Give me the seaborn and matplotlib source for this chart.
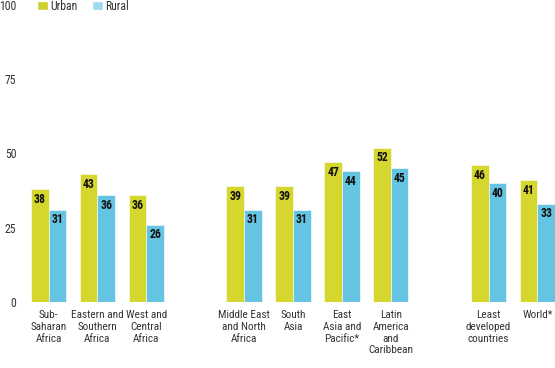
import matplotlib
matplotlib.use("Agg")
import matplotlib.pyplot as plt
from matplotlib import font_manager
from matplotlib.patches import Patch
import seaborn as sns
import pandas as pd

regions = ["Sub-\nSaharan\nAfrica", "Eastern and\nSouthern\nAfrica", "West and\nCentral\nAfrica",
           "Middle East\nand North\nAfrica", "South\nAsia", "East\nAsia and\nPacific*",
           "Latin\nAmerica\nand\nCaribbean", "Least\ndeveloped\ncountries", "World*"]
urban = [38, 43, 36, 39, 39, 47, 52, 46, 41]
rural = [31, 36, 26, 31, 31, 44, 45, 40, 33]
# empty slots to separate the region blocks
order = regions[:3] + [" "] + regions[3:7] + ["  "] + regions[7:]

urban_color = "#d5d62e"
rural_color = "#64c4e2"

df = pd.DataFrame({
    "region": regions * 2,
    "value": urban + rural,
    "area": ["Urban"] * len(urban) + ["Rural"] * len(rural),
})


def pick_font(names):
    for n in names:
        try:
            font_manager.findfont(n, fallback_to_default=False)
            return n
        except ValueError:
            pass
    return "DejaVu Sans"


font = pick_font(["Liberation Sans Narrow", "Arial Narrow", "DejaVu Sans Condensed",
                  "Roboto Condensed", "Open Sans Condensed", "Roboto"])
narrow = font != "Roboto"

sns.set_style("white")
plt.rcParams["font.family"] = [font, "DejaVu Sans"]

fs = 8.5 if narrow else 7.8

fig = plt.figure(figsize=(5.55, 3.68), dpi=100)
ax = fig.add_axes([22 / 555, 66 / 368, 533 / 555, 297 / 368])

sns.barplot(data=df, x="region", y="value", hue="area", order=order,
            hue_order=["Urban", "Rural"], palette=[urban_color, rural_color],
            width=0.72, saturation=1, edgecolor="white", linewidth=0.4,
            legend=False, ax=ax)

for cont in ax.containers:
    for bar in cont:
        h = bar.get_height()
        if h != h:
            continue
        ax.annotate(f"{h:.0f}", (bar.get_x() + bar.get_width() / 2, h),
                    xytext=(0, -2.5), textcoords="offset points",
                    ha="center", va="top", fontsize=fs, fontweight="bold",
                    color="#111111")

ax.set_xlim(-0.542, 10.358)
ax.set_ylim(0, 100)
ax.set_yticks([0, 25, 50, 75, 100])
ax.set_xlabel("")
ax.set_ylabel("")
sns.despine(ax=ax, left=True, bottom=True)
ax.tick_params(axis="both", length=0, labelsize=fs, colors="#333333")
ax.tick_params(axis="x", pad=6, labelsize=fs - 0.4)
ax.tick_params(axis="y", pad=4)
for lab in ax.get_xticklabels():
    lab.set_linespacing(1.2)

handles = [Patch(facecolor="#cdcf2a", label="Urban"),
           Patch(facecolor="#9ddaf0", label="Rural")]
fig.legend(handles=handles, loc="upper left", bbox_to_anchor=(26 / 555, 1.03),
           ncol=2, frameon=False, fontsize=fs, handlelength=1.0, handleheight=0.9,
           handletextpad=0.15, columnspacing=1.2, labelcolor="#333333")

fig.savefig("out.png", dpi=100)
